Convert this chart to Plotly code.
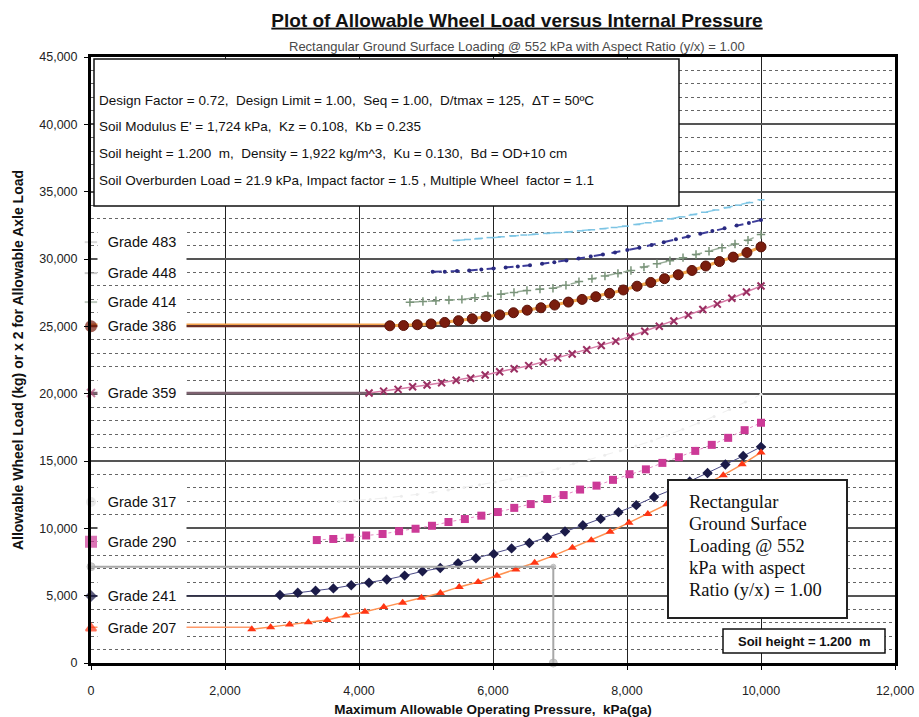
import plotly.graph_objects as go

# ---------------- data ----------------
p207 = [2400, 2681, 2963, 3244, 3526, 3807, 4089, 4370, 4652, 4933, 5215, 5496, 5778, 6059,
        6341, 6622, 6904, 7185, 7467, 7748, 8030, 8311, 8593, 8874, 9156, 9437, 9719, 10000]
w207 = [2500, 2650, 2850, 3020, 3200, 3520, 3800, 4150, 4480, 4850, 5200, 5650, 6010, 6480,
        6950, 7450, 7970, 8560, 9110, 9750, 10420, 11070, 11780, 12480, 13200, 13950, 14750, 15640]

p241 = [2820, 3086, 3352, 3618, 3884, 4149, 4415, 4681, 4947, 5213, 5479, 5745, 6011, 6277,
        6543, 6809, 7075, 7341, 7607, 7873, 8138, 8404, 8670, 8936, 9202, 9468, 9734, 10000]
w241 = [5050, 5220, 5360, 5540, 5770, 5960, 6200, 6490, 6810, 7050, 7410, 7780, 8100, 8510,
        8910, 9330, 9760, 10230, 10700, 11200, 11720, 12330, 12870, 13480, 14110, 14740, 15370, 16050]

p290 = [3370, 3616, 3861, 4107, 4352, 4598, 4844, 5089, 5335, 5580, 5826, 6072, 6317, 6563,
        6809, 7054, 7300, 7545, 7791, 8037, 8282, 8528, 8774, 9019, 9265, 9510, 9756, 10000]
w290 = [9130, 9210, 9300, 9470, 9580, 9790, 9970, 10190, 10470, 10690, 10940, 11210, 11520, 11800,
        12180, 12470, 12880, 13170, 13600, 14020, 14380, 14860, 15280, 15750, 16200, 16720, 17290, 17840]

p317 = [3700, 3933, 4167, 4400, 4633, 4867, 5100, 5333, 5567, 5800, 6033, 6267, 6500, 6733,
        6967, 7200, 7433, 7667, 7900, 8133, 8367, 8600, 8833, 9067, 9300, 9533, 9767, 10000]
w317 = [12000, 12060, 12150, 12260, 12380, 12520, 12680, 12850, 13030, 13230, 13440, 13670, 13910, 14160,
        14430, 14800, 15100, 15420, 15760, 16110, 16480, 16900, 17350, 17820, 18300, 18820, 19380, 19950]

p359 = [4150, 4367, 4583, 4800, 5016, 5233, 5450, 5666, 5883, 6099, 6316, 6533, 6749, 6966,
        7182, 7399, 7616, 7832, 8049, 8265, 8482, 8699, 8915, 9132, 9348, 9565, 9783, 10000]
w359 = [20050, 20190, 20320, 20510, 20640, 20810, 21000, 21150, 21380, 21630, 21850, 22080, 22360, 22660,
        22950, 23260, 23580, 23900, 24250, 24640, 25000, 25400, 25830, 26250, 26650, 27080, 27550, 28000]

p386 = [4460, 4665, 4870, 5075, 5280, 5485, 5690, 5895, 6100, 6305, 6510, 6715, 6920, 7125,
        7330, 7535, 7740, 7945, 8150, 8355, 8560, 8765, 8970, 9175, 9380, 9585, 9790, 10000]
w386 = [25040, 25060, 25120, 25180, 25290, 25420, 25560, 25720, 25850, 26010, 26200, 26380, 26580, 26800,
        27000, 27200, 27450, 27700, 27980, 28260, 28540, 28830, 29150, 29480, 29810, 30140, 30480, 30900]

p414 = [4760, 4954, 5148, 5342, 5536, 5730, 5924, 6119, 6313, 6507, 6701, 6895, 7089, 7283,
        7477, 7671, 7865, 8059, 8253, 8447, 8641, 8836, 9030, 9224, 9418, 9612, 9806, 10000]
w414 = [26780, 26840, 26900, 26950, 27000, 27120, 27260, 27380, 27520, 27670, 27760, 27830, 28050, 28320,
        28540, 28740, 28930, 29150, 29400, 29650, 29870, 30100, 30330, 30580, 30840, 31110, 31400, 31820]

p448 = [5100, 5281, 5463, 5644, 5826, 6007, 6189, 6370, 6552, 6733, 6915, 7096, 7278, 7459,
        7641, 7822, 8004, 8185, 8367, 8548, 8730, 8911, 9093, 9274, 9456, 9637, 9819, 10000]
w448 = [29050, 29060, 29100, 29150, 29220, 29300, 29370, 29440, 29530, 29640, 29760, 29890, 30030, 30180,
        30330, 30480, 30660, 30840, 31040, 31240, 31460, 31670, 31880, 32080, 32280, 32480, 32680, 32900]

p483 = [5450, 5619, 5787, 5956, 6124, 6293, 6461, 6630, 6798, 6967, 7135, 7304, 7472, 7641,
        7809, 7978, 8146, 8315, 8483, 8652, 8820, 8989, 9157, 9326, 9494, 9663, 9831, 10000]
w483 = [31380, 31450, 31520, 31590, 31650, 31720, 31780, 31840, 31900, 31960, 32020, 32090, 32170, 32250,
        32340, 32440, 32560, 32690, 32830, 32980, 33130, 33300, 33470, 33640, 33820, 34000, 34190, 34400]

grade_labels = ["Grade 483", "Grade 448", "Grade 414", "Grade 386", "Grade 359",
                "Grade 317", "Grade 290", "Grade 241", "Grade 207"]
grade_levels = [31250, 28950, 26800, 25000, 20050, 11950, 9000, 4970, 2580]

op_pressure = [0, 6900, 6900]
op_load = [7150, 7150, 0]

info_lines = [
    "Design Factor = 0.72, \u00a0Design Limit = 1.00, \u00a0Seq = 1.00, \u00a0D/tmax = 125, \u00a0\u0394T = 50\u00baC",
    "Soil Modulus E' = 1,724 kPa, \u00a0Kz = 0.108, \u00a0Kb = 0.235",
    "Soil height = 1.200 \u00a0m, \u00a0Density = 1,922 kg/m^3, \u00a0Ku = 0.130, \u00a0Bd = OD+10 cm",
    "Soil Overburden Load = 21.9 kPa, Impact factor = 1.5 , Multiple Wheel \u00a0factor = 1.1",
]
rect_lines = ["Rectangular", "Ground Surface", "Loading @ 552", "kPa with aspect", "Ratio (y/x) = 1.00"]

# ---------------- layout geometry ----------------
W, H = 919, 717
ML, MR, MT, MB = 91, 24, 57, 54
PW, PH = W - ML - MR, H - MT - MB
SANS = "Liberation Sans, Arial, sans-serif"
SERIF = "Liberation Serif, Times New Roman, serif"


def fx(px):
    return (px - ML) / PW


def fy(py):
    return (H - MB - py) / PH


fig = go.Figure()

# very faint grade 317 curve
fig.add_trace(go.Scatter(x=p317, y=w317, mode="lines+markers",
                         line=dict(color="#efefef", width=1, dash="dash"),
                         marker=dict(symbol="circle", size=3, color="#ececec")))

# dashed upper grades
fig.add_trace(go.Scatter(x=p483, y=w483, mode="lines+markers",
                         line=dict(color="#86cdea", width=1.5, dash="dash"),
                         marker=dict(symbol="line-ew-open", size=5, color="#7cc3e3", line=dict(width=1.5))))
fig.add_trace(go.Scatter(x=p448, y=w448, mode="lines+markers",
                         line=dict(color="#3d3d9a", width=2, dash="dash"),
                         marker=dict(symbol="circle", size=4, color="#2a2a80")))
fig.add_trace(go.Scatter(x=p414, y=w414, mode="lines+markers",
                         line=dict(color="#9aae9a", width=1.5, dash="dash"),
                         marker=dict(symbol="cross-thin-open", size=6, color="#7a947a", line=dict(width=1.5))))

# leaders from label to curve start
fig.add_trace(go.Scatter(x=[0, p386[0]], y=[25150, 25150], mode="lines",
                         line=dict(color="#f3a24a", width=1.5)))
fig.add_trace(go.Scatter(x=[0, p386[0]], y=[25000, 25000], mode="lines",
                         line=dict(color="#6e2a1e", width=2)))
fig.add_trace(go.Scatter(x=[0, p359[0]], y=[20050, 20050], mode="lines",
                         line=dict(color="#7d6270", width=2.5)))
fig.add_trace(go.Scatter(x=[0, p241[0]], y=[5000, 5000], mode="lines",
                         line=dict(color="#30304a", width=1.5)))
fig.add_trace(go.Scatter(x=[0, p207[0]], y=[2650, 2650], mode="lines",
                         line=dict(color="#ff9a6a", width=1.5)))

# Grade 386
fig.add_trace(go.Scatter(x=p386, y=w386, mode="lines+markers",
                         line=dict(color="#f6a94e", width=3),
                         marker=dict(symbol="circle", size=10, color="#7a1d0e",
                                     line=dict(color="#5a1208", width=1))))
# Grade 359
fig.add_trace(go.Scatter(x=p359, y=w359, mode="lines+markers",
                         line=dict(color="#d77aa6", width=1.5),
                         marker=dict(symbol="x-thin-open", size=7, color="#9a2f62", line=dict(width=2))))
# Grade 290
fig.add_trace(go.Scatter(x=p290, y=w290, mode="lines+markers",
                         line=dict(color="#e38cc4", width=1, dash="dot"),
                         marker=dict(symbol="square", size=8, color="#cc3a97")))
# Grade 241
fig.add_trace(go.Scatter(x=p241, y=w241, mode="lines+markers",
                         line=dict(color="#4a4a86", width=1),
                         marker=dict(symbol="diamond", size=8, color="#1b1b48")))
# Grade 207
fig.add_trace(go.Scatter(x=p207, y=w207, mode="lines+markers",
                         line=dict(color="#ff9150", width=1.5),
                         marker=dict(symbol="triangle-up", size=8, color="#ff3614")))

# operating point line
fig.add_trace(go.Scatter(x=op_pressure, y=op_load, mode="lines+markers", cliponaxis=False,
                         line=dict(color="#a8a8a8", width=2),
                         marker=dict(symbol="circle", size=[8, 5, 8], color="#b4b4b4")))

# markers sitting on the left axis, one per grade
axis_syms = ["line-ew-open", "line-ew-open", "line-ew-open", "circle", "x-thin-open",
             "circle", "square", "diamond", "triangle-up"]
axis_cols = ["#c8c8c8", "#b0b0b0", "#a4b4a4", "#7a1d0e", "#b04a78",
             "#e2e2e2", "#cc3a97", "#1b1b48", "#ff3614"]
axis_size = [9, 9, 9, 10, 8, 8, 10, 7, 9]
fig.add_trace(go.Scatter(x=[0] * len(grade_levels), y=grade_levels, mode="markers", cliponaxis=False,
                         marker=dict(symbol=axis_syms, size=axis_size, color=axis_cols,
                                     line=dict(width=2, color=axis_cols))))

# ---------------- overlays ----------------
shapes = [
    dict(type="rect", xref="paper", yref="paper", x0=fx(94), x1=fx(679), y0=fy(206), y1=fy(59),
         fillcolor="white", line=dict(color="#111", width=1.5), layer="above"),
    dict(type="rect", xref="paper", yref="paper", x0=fx(668), x1=fx(847), y0=fy(618), y1=fy(480),
         fillcolor="white", line=dict(color="#222", width=2), layer="above"),
    dict(type="rect", xref="paper", yref="paper", x0=fx(723), x1=fx(885), y0=fy(653), y1=fy(629),
         fillcolor="white", line=dict(color="#111", width=1.5), layer="above"),
]

annotations = []
annotations.append(dict(text="Rectangular Ground Surface Loading @ 552 kPa with Aspect Ratio (y/x) = 1.00",
                        xref="paper", yref="paper", x=fx(517), y=fy(47), showarrow=False,
                        xanchor="center", yanchor="middle",
                        font=dict(family=SANS, size=13, color="#4a4a4a")))
for i, t in enumerate(info_lines):
    annotations.append(dict(text=t, xref="paper", yref="paper", x=fx(97), y=fy(100 + i * 26.7),
                            showarrow=False, xanchor="left", yanchor="middle",
                            font=dict(family=SANS, size=13.5, color="#111")))
for i, t in enumerate(rect_lines):
    annotations.append(dict(text=t, xref="paper", yref="paper", x=fx(687), y=fy(502 + i * 22),
                            showarrow=False, xanchor="left", yanchor="middle",
                            font=dict(family=SERIF, size=18.5, color="#111")))
annotations.append(dict(text="<b>Soil height = 1.200  m</b>", xref="paper", yref="paper",
                        x=fx(804), y=fy(641), showarrow=False, xanchor="center", yanchor="middle",
                        font=dict(family=SANS, size=13, color="#111")))
for lab, lev in zip(grade_labels, grade_levels):
    annotations.append(dict(text=lab, xref="x", yref="y", x=0, y=lev, xanchor="left", yanchor="middle",
                            xshift=6, yshift=3, width=86, height=22, borderpad=1, align="center",
                            valign="bottom", bgcolor="white", showarrow=False,
                            font=dict(family=SANS, size=14.5, color="#111")))

fig.update_layout(
    width=W, height=H,
    margin=dict(l=ML, r=MR, t=MT, b=MB),
    paper_bgcolor="white", plot_bgcolor="white",
    showlegend=False,
    title=dict(text="<b><u>Plot of Allowable Wheel Load versus Internal Pressure</u></b>",
               x=517 / W, xref="container", xanchor="center",
               y=1 - 20 / H, yref="container", yanchor="middle",
               font=dict(family=SANS, size=19, color="#111")),
    shapes=shapes,
    annotations=annotations,
)

fig.update_xaxes(range=[0, 12000], dtick=2000, tick0=0, tickformat=",d", automargin=False,
                 showgrid=True, gridcolor="#222", gridwidth=1,
                 showline=True, linecolor="black", linewidth=3, mirror=True,
                 ticks="outside", ticklen=4, tickcolor="black", zeroline=False,
                 ticklabelstandoff=10,
                 tickfont=dict(family=SANS, size=12.5, color="#222"),
                 title=dict(text="<b>Maximum Allowable Operating Pressure, \u00a0kPa(ga)</b>",
                            standoff=9, font=dict(family=SANS, size=13.5, color="#111")))
fig.update_yaxes(range=[0, 45000], dtick=5000, tick0=0, tickformat=",d", automargin=False,
                 showgrid=True, gridcolor="#555", gridwidth=1.5,
                 minor=dict(dtick=1000, showgrid=True, gridcolor="#666", griddash="dot", gridwidth=1,
                            ticks=""),
                 showline=True, linecolor="black", linewidth=3, mirror=True,
                 ticks="outside", ticklen=4, tickcolor="black", zeroline=False,
                 ticklabelstandoff=4,
                 tickfont=dict(family=SANS, size=12.5, color="#222"),
                 title=dict(text="<b>Allowable Wheel Load (kg) or x 2 for Allowable Axle Load</b>",
                            standoff=13, font=dict(family=SANS, size=14, color="#111")))

fig.write_html("out.html")
